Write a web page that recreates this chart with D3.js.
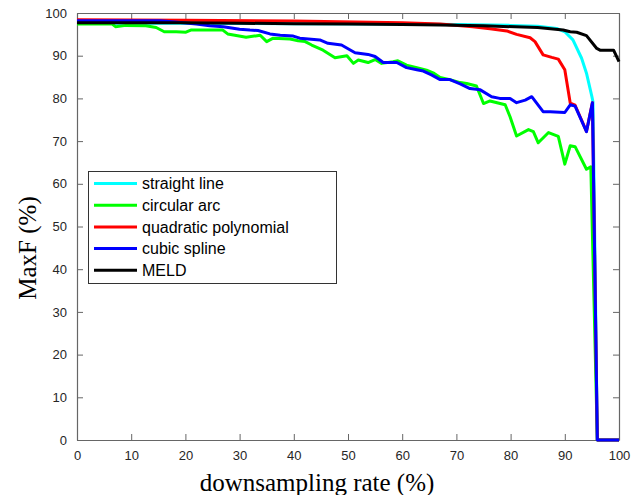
<!DOCTYPE html>
<html>
<head>
<meta charset="utf-8">
<script src="https://cdn.jsdelivr.net/npm/d3@7"></script>
<style>
  body { margin: 0; background: #fff; }
  svg { display: block; }
</style>
</head>
<body>
<script>
// values (x = downsampling rate %, y = MaxF %)
const straightX = [0, 10, 20, 40, 60, 70, 80, 85, 88.5, 90, 91.5, 93.1, 94, 95, 95.2, 96, 100];
const straightY = [97.6, 97.6, 97.6, 97.5, 97.4, 97.3, 97.1, 96.9, 96.4, 95.6, 93.7, 89.4, 85.9, 80.4, 79.2, 0, 0];

const arcX = [0, 6.5, 7.1, 9, 12.7, 14.6, 16.1, 18.3, 20.1, 21, 26.9, 27.8, 29.9, 31.2, 33.8, 35, 36.2, 39.3, 40.8, 42.1,
  43.3, 45.4, 47.6, 49.8, 51, 51.9, 53.7, 55, 56.2, 58.3, 59.2, 60.8, 62.7, 64.5, 65.7, 67, 68.8, 70.7, 71.9, 73.7,
  75, 76.2, 79, 79.9, 81.1, 83.3, 84.2, 85.1, 87, 88.8, 90, 91, 91.9, 94, 94.8, 96, 100];
const arcY = [97.4, 97.4, 96.8, 97.1, 97.0, 96.6, 95.6, 95.6, 95.5, 96.0, 96.0, 95.1, 94.6, 94.3, 94.8, 93.3, 94.1, 93.9, 93.5, 93.3,
  92.5, 91.3, 89.5, 90.0, 88.2, 89.0, 88.4, 89.1, 88.2, 88.6, 88.8, 87.8, 87.2, 86.6, 86.0, 84.9, 84.4, 83.7, 83.5, 82.9,
  78.8, 79.4, 78.5, 75.7, 71.2, 72.7, 72.2, 69.6, 72.0, 71.1, 64.6, 68.9, 68.7, 63.4, 64.0, 0, 0];

const quadX = [0, 20, 40, 60, 67, 73, 76.2, 79.3, 81.1, 83.6, 84.5, 86, 87.6, 88.8, 90, 91, 91.9, 94, 95.1, 96, 100];
const quadY = [98.4, 98.3, 98.1, 97.7, 97.4, 96.8, 96.3, 95.8, 95.0, 94.2, 93.3, 90.2, 89.6, 89.2, 86.7, 78.9, 78.4, 72.3, 79.0, 0, 0];

const splineX = [0, 15.3, 19.6, 22, 24.5, 27, 30, 31.9, 33.4, 35.6, 37.5, 39.9, 41.1, 44.8, 46.3, 48.8, 51.3, 53.7, 55, 56.5,
  59, 60.8, 62.7, 63.9, 65.4, 67, 68.8, 70.7, 72.5, 74.4, 76.5, 78, 79.9, 81.1, 82.7, 83.9, 86, 87.3, 90, 91,
  91.9, 94, 95.1, 96, 100];
const splineY = [98.2, 98.2, 97.7, 97.4, 97.0, 96.8, 96.2, 96.0, 95.9, 95.1, 94.8, 94.6, 94.1, 93.7, 92.9, 92.5, 90.7, 90.3, 89.8, 88.4,
  88.4, 87.2, 86.7, 86.4, 85.5, 84.4, 84.4, 83.4, 82.3, 82.0, 80.4, 80.0, 80.0, 79.0, 79.6, 80.4, 76.9, 76.9, 76.7, 78.5,
  78.2, 72.2, 79.0, 0, 0];

const meldX = [0, 10, 20, 30, 40, 50, 60, 67, 75, 85, 89.7, 91, 92.2, 94, 95.9, 96.5, 99, 100];
const meldY = [97.7, 97.7, 97.7, 97.6, 97.5, 97.4, 97.3, 97.2, 97.0, 96.6, 96.0, 95.6, 95.5, 94.7, 91.7, 91.3, 91.3, 88.6];

const seriesNames = ["straight line", "circular arc", "quadratic polynomial", "cubic spline", "MELD"];
const seriesColors = ["#00ffff", "#00ff00", "#ff0000", "#0000ff", "#000000"];
const seriesXs = [straightX, arcX, quadX, splineX, meldX];
const seriesYs = [straightY, arcY, quadY, splineY, meldY];

const xTicks = [0, 10, 20, 30, 40, 50, 60, 70, 80, 90, 100];
const yTicks = [0, 10, 20, 30, 40, 50, 60, 70, 80, 90, 100];

const w = 631, h = 495;
const plotLeft = 77, plotRight = 619, plotTop = 13, plotBottom = 440;

const xScale = d3.scaleLinear().domain([0, 100]).range([plotLeft, plotRight]);
const yScale = d3.scaleLinear().domain([0, 100]).range([plotBottom, plotTop]);

const svg = d3.select("body").append("svg")
  .attr("width", w)
  .attr("height", h);

const axisColor = "#666";

// bottom axis with labels
const xAxis = svg.append("g")
  .attr("transform", "translate(0," + plotBottom + ")")
  .call(d3.axisBottom(xScale).tickValues(xTicks).tickSizeInner(-6).tickSizeOuter(0).tickPadding(11));

// left axis with labels
const yAxis = svg.append("g")
  .attr("transform", "translate(" + plotLeft + ",0)")
  .call(d3.axisLeft(yScale).tickValues(yTicks).tickSizeInner(-6).tickSizeOuter(0).tickPadding(10));

// top and right box lines with ticks, no labels
const topAxis = svg.append("g")
  .attr("transform", "translate(0," + plotTop + ")")
  .call(d3.axisTop(xScale).tickValues(xTicks).tickSizeInner(-6).tickSizeOuter(0).tickFormat(""));

const rightAxis = svg.append("g")
  .attr("transform", "translate(" + plotRight + ",0)")
  .call(d3.axisRight(yScale).tickValues(yTicks).tickSizeInner(-6).tickSizeOuter(0).tickFormat(""));

[xAxis, yAxis, topAxis, rightAxis].forEach(g => {
  g.selectAll(".domain").attr("stroke", axisColor).attr("stroke-width", 1.2);
  g.selectAll(".tick line").attr("stroke", axisColor);
  g.selectAll(".tick text")
    .attr("fill", "#262626")
    .style("font-family", "'Liberation Sans', Arial, sans-serif")
    .style("font-size", "13px");
});

// lines
const line = d3.line()
  .x(d => xScale(d[0]))
  .y(d => yScale(d[1]));

seriesNames.forEach((name, i) => {
  const pts = seriesXs[i].map((x, j) => [x, seriesYs[i][j]]);
  svg.append("path")
    .datum(pts)
    .attr("fill", "none")
    .attr("stroke", seriesColors[i])
    .attr("stroke-width", 3)
    .attr("stroke-linejoin", "round")
    .attr("d", line);
});

// legend
const legend = svg.append("g");
legend.append("rect")
  .attr("x", 88.5).attr("y", 171.5)
  .attr("width", 248).attr("height", 112)
  .attr("fill", "#fff")
  .attr("stroke", "#333")
  .attr("stroke-width", 1);

seriesNames.forEach((name, i) => {
  const yy = 183.5 + i * 21.7;
  legend.append("line")
    .attr("x1", 94).attr("x2", 137)
    .attr("y1", yy).attr("y2", yy)
    .attr("stroke", seriesColors[i])
    .attr("stroke-width", 3);
  legend.append("text")
    .attr("x", 142).attr("y", yy)
    .attr("dy", "0.35em")
    .attr("fill", "#000")
    .style("font-family", "'Liberation Sans', Arial, sans-serif")
    .style("font-size", "16px")
    .text(name);
});

// axis titles
svg.append("text")
  .attr("x", 317).attr("y", 491)
  .attr("text-anchor", "middle")
  .style("font-family", "'Liberation Serif', 'Times New Roman', serif")
  .style("font-size", "25px")
  .attr("fill", "#000")
  .text("downsampling rate (%)");

svg.append("text")
  .attr("transform", "translate(36,248) rotate(-90)")
  .attr("text-anchor", "middle")
  .style("font-family", "'Liberation Serif', 'Times New Roman', serif")
  .style("font-size", "25px")
  .attr("fill", "#000")
  .text("MaxF (%)");
</script>
</body>
</html>
